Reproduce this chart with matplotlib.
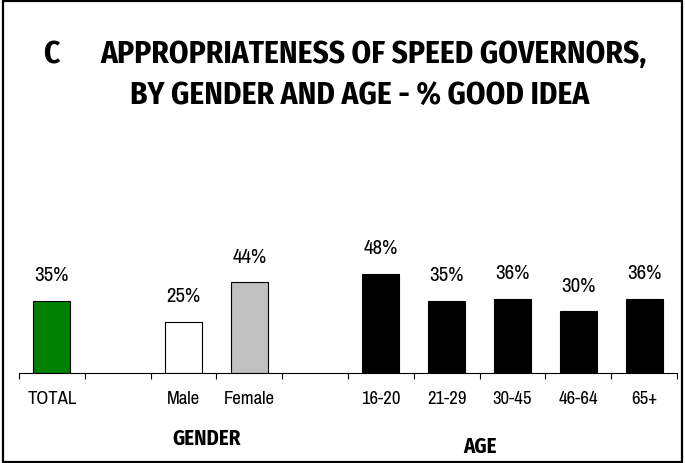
import matplotlib.pyplot as plt
import matplotlib.transforms as mtransforms
from matplotlib.patches import Rectangle

# categories (empty slots are spacer columns between groups)
categories = ['TOTAL', '', 'Male', 'Female', '', '16-20', '21-29', '30-45', '46-64', '65+']
values = [35, None, 25, 44, None, 48, 35, 36, 30, 36]
colors = ['#008000', None, 'white', '#c0c0c0', None, 'black', 'black', 'black', 'black', 'black']
group_names = ['GENDER', 'AGE']
group_centers = [2.85, 7.0]
title_letter = 'C'
title_line1 = 'APPROPRIATENESS OF SPEED GOVERNORS,'
title_line2 = 'BY GENDER AND AGE - % GOOD IDEA'

plt.rcParams['font.family'] = ['Archivo Narrow', 'Liberation Sans', 'DejaVu Sans']
bold_font = ['Fira Sans Condensed', 'DejaVu Sans']

W, H = 685, 464
fig = plt.figure(figsize=(W / 100, H / 100), dpi=100)
fig.patches.append(Rectangle((0.004, 0.003), 0.992, 0.993, transform=fig.transFigure,
                             fill=False, edgecolor='black', linewidth=1.6))

ax = fig.add_axes([19 / W, (H - 374) / H, (677 - 19) / W, 206 / H])
ax.set_xlim(0, len(categories))
ax.set_ylim(0, 100)

for i, (v, c) in enumerate(zip(values, colors)):
    if v is None:
        continue
    ax.bar(i + 0.5, v, width=0.56, color=c, edgecolor='black', linewidth=0.8)
    ax.annotate(f'{v}%', (i + 0.5, v), xytext=(0, 12), textcoords='offset points',
                ha='center', va='bottom', fontsize=15)

for s in ['top', 'right', 'left']:
    ax.spines[s].set_visible(False)
ax.spines['bottom'].set_linewidth(0.8)
ax.set_yticks([])
ax.set_xticks(range(len(categories) + 1))
ax.set_xticklabels([])
ax.tick_params(axis='x', which='major', direction='out', length=4, width=0.8)
ax.set_xticks([i + 0.5 for i in range(len(categories))], minor=True)
ax.set_xticklabels(categories, minor=True, fontsize=13.5)
ax.tick_params(axis='x', which='minor', length=0, pad=12)

# group labels under the tick labels
trans = mtransforms.blended_transform_factory(ax.transData, fig.transFigure)
for name, x, ypix in zip(group_names, group_centers, [439, 447]):
    ax.text(x, (H - ypix) / H, name, transform=trans, fontsize=15, fontweight='bold',
            family=bold_font, ha='center', va='center')

fig.text(43 / W, (H - 55) / H, title_letter, ha='left', va='center', fontsize=22.5,
         fontweight='bold', family=bold_font)
fig.text(374 / W, (H - 55) / H, title_line1, ha='center', va='center', fontsize=22.5,
         fontweight='bold', family=bold_font)
fig.text(360 / W, (H - 97) / H, title_line2, ha='center', va='center', fontsize=22.5,
         fontweight='bold', family=bold_font)

fig.savefig('out.png', dpi=100)
